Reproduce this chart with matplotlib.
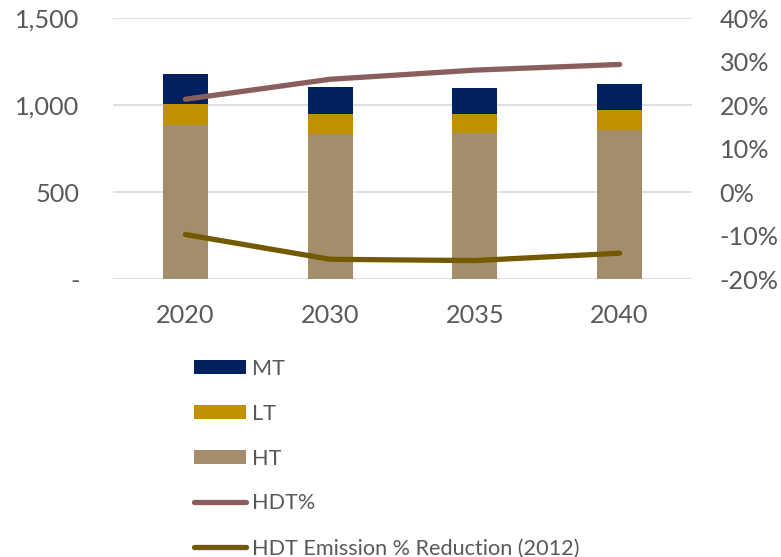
import matplotlib
matplotlib.use("Agg")
import matplotlib.pyplot as plt
import numpy as np
from matplotlib.ticker import FuncFormatter, MultipleLocator

plt.rcParams['font.family'] = ['Lato', 'DejaVu Sans']

years = ["2020", "2030", "2035", "2040"]
ht = [888, 837, 839, 860]
lt = [119, 115, 111, 111]
mt = [173, 153, 149, 150]
hdt_share = [0.214, 0.260, 0.281, 0.294]
emission_reduction = [-0.097, -0.154, -0.157, -0.140]

text_color = "#595959"
c_mt = "#002060"
c_lt = "#BF9000"
c_ht = "#A48D6A"
c_hdt = "#8B5E5E"
c_em = "#735A00"

fig = plt.figure(figsize=(7.81, 5.57), dpi=100)
ax = fig.add_axes([0.1447, 0.4986, 0.886 - 0.1447, 0.967 - 0.4986])
ax2 = ax.twinx()

x = np.arange(len(years))
w = 0.31
ht_a, lt_a, mt_a = map(np.array, (ht, lt, mt))
b_ht = ax.bar(x, ht_a, w, color=c_ht, label="HT", zorder=2)
b_lt = ax.bar(x, lt_a, w, bottom=ht_a, color=c_lt, label="LT", zorder=2)
b_mt = ax.bar(x, mt_a, w, bottom=ht_a + lt_a, color=c_mt, label="MT", zorder=2)

l_hdt, = ax2.plot(x, hdt_share, color=c_hdt, lw=3.8, solid_capstyle="round",
                  solid_joinstyle="round", label="HDT%")
l_em, = ax2.plot(x, emission_reduction, color=c_em, lw=3.8, solid_capstyle="round",
                 solid_joinstyle="round", label="HDT Emission % Reduction (2012)")

ax.set_xlim(-0.5, len(years) - 0.5)
ax.set_ylim(0, 1500)
ax.yaxis.set_major_locator(MultipleLocator(500))
ax.yaxis.set_major_formatter(FuncFormatter(lambda v, p: "-" if v == 0 else f"{v:,.0f}"))
ax2.set_ylim(-0.2, 0.4)
ax2.yaxis.set_major_locator(MultipleLocator(0.1))
ax2.yaxis.set_major_formatter(FuncFormatter(lambda v, p: f"{v * 100:.0f}%"))

ax.set_xticks(x)
ax.set_xticklabels(years)
ax.grid(axis="y", color="#D9D9D9", lw=1.2, zorder=0)
ax.set_axisbelow(True)

for a in (ax, ax2):
    for s in a.spines.values():
        s.set_visible(False)
ax.tick_params(axis="y", length=0, pad=24, labelsize=18.2, labelcolor=text_color)
ax.tick_params(axis="x", length=0, pad=18, labelsize=18.2, labelcolor=text_color)
ax2.tick_params(axis="y", length=0, pad=20, labelsize=18.2, labelcolor=text_color)

handles = [b_mt, b_lt, b_ht, l_hdt, l_em]
labels = [h.get_label() for h in handles]
leg = fig.legend(handles, labels, loc="upper left", bbox_to_anchor=(0.248, 0.356),
                 frameon=False, fontsize=15.6, handlelength=2.4, handleheight=0.6,
                 handletextpad=0.28, labelspacing=1.15, borderaxespad=0, borderpad=0)
for t in leg.get_texts():
    t.set_color(text_color)

fig.savefig("out.png", dpi=100)
